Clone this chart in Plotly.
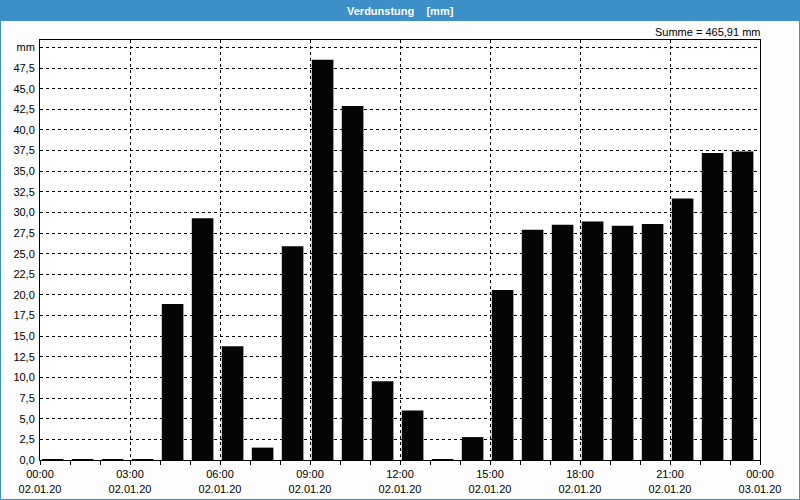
import plotly.graph_objects as go

hours = list(range(24))
values = [0.1, 0.1, 0.1, 0.1, 18.9, 29.3, 13.8, 1.5, 25.9, 48.5, 42.9, 9.55,
          6.0, 0.12, 2.78, 20.6, 27.9, 28.5, 28.9, 28.4, 28.6, 31.7, 37.2, 37.4]
x_tickvals = [0, 3, 6, 9, 12, 15, 18, 21, 24]
x_ticktext = ["00:00<br>02.01.20", "03:00<br>02.01.20", "06:00<br>02.01.20",
              "09:00<br>02.01.20", "12:00<br>02.01.20", "15:00<br>02.01.20",
              "18:00<br>02.01.20", "21:00<br>02.01.20", "00:00<br>03.01.20"]
y_tickvals = [i * 2.5 for i in range(21)]
y_ticktext = [f"{v:.1f}".replace(".", ",") for v in y_tickvals[:-1]] + ["mm"]
title_text = "Verdunstung\u00a0\u00a0\u00a0\u00a0[mm]"
summe_text = "Summe = 465,91 mm"

BLUE = "#3c8fc7"
FONT = "Liberation Sans"

fig = go.Figure()
fig.add_trace(go.Bar(x=hours, y=values, offset=0.06, width=0.72,
                     marker=dict(color="#050505", line=dict(width=0)),
                     hoverinfo="skip"))

W, H = 800, 500
ml, mr, mt, mb = 40, 40, 40, 40
pw, ph = W - ml - mr, H - mt - mb

def px(xp):
    return (xp - ml) / pw

def py(yp):
    return 1 - (yp - mt) / ph

fig.update_layout(
    width=W, height=H,
    margin=dict(l=ml, r=mr, t=mt, b=mb, pad=0, autoexpand=False),
    paper_bgcolor="#fcfdfc", plot_bgcolor="#ffffff",
    showlegend=False,
    font=dict(family=FONT, size=11, color="#000000"),
    xaxis=dict(range=[0, 24], tickmode="array", tickvals=x_tickvals,
               ticktext=x_ticktext, showgrid=True, gridcolor="#000000",
               griddash="3px,3px", gridwidth=1, zeroline=False,
               showline=True, linecolor="#000000", linewidth=1, mirror=True,
               ticks="outside", ticklen=4, tickcolor="#000000",
               automargin=False,
               minor=dict(dtick=1, ticks="outside", ticklen=4,
                          tickcolor="#000000", showgrid=False),
               tickfont=dict(family=FONT, size=11)),
    yaxis=dict(range=[0, 50.9], tickmode="array", tickvals=y_tickvals,
               ticktext=y_ticktext, showgrid=True, gridcolor="#000000",
               griddash="3px,3px", gridwidth=1, zeroline=False,
               showline=True, linecolor="#000000", linewidth=1, mirror=True,
               ticks="", ticklabelstandoff=2, automargin=False,
               tickfont=dict(family=FONT, size=11)),
    shapes=[
        dict(type="rect", xref="paper", yref="paper",
             x0=px(0), x1=px(800), y0=py(0), y1=py(21),
             fillcolor=BLUE, line=dict(width=0), layer="above"),
        dict(type="rect", xref="paper", yref="paper",
             x0=px(0.5), x1=px(799.5), y0=py(0.5), y1=py(499.5),
             fillcolor="rgba(0,0,0,0)", line=dict(color=BLUE, width=1),
             layer="above"),
    ],
    annotations=[
        dict(text="<b>" + title_text + "</b>", xref="paper", yref="paper",
             x=px(400), y=py(10.5), xanchor="center", yanchor="middle",
             showarrow=False, font=dict(family=FONT, size=11, color="#ffffff")),
        dict(text=summe_text, xref="paper", yref="paper",
             x=px(762), y=py(32), xanchor="right", yanchor="middle",
             showarrow=False, font=dict(family=FONT, size=11, color="#000000")),
    ],
)

fig.write_html("out.html")
